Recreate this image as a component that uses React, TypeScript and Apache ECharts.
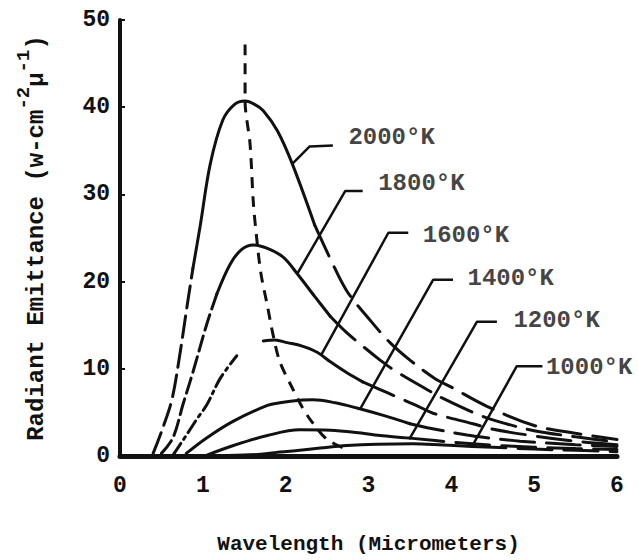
import React, { useEffect, useRef } from 'react';
import * as echarts from 'echarts';

type Pt = [number, number];

// Axis ticks
const xTicks = [0, 1, 2, 3, 4, 5, 6];
const yTicks = [0, 10, 20, 30, 40, 50];

// Black-body emittance curves: [wavelength µm, W cm^-2 µ^-1]
const curve2000: Pt[] = [
  [0.4, 0.3], [0.52, 3.3], [0.63, 6.6], [0.72, 11.5], [0.81, 17.2], [0.88, 21.5],
  [0.97, 26.5], [1.09, 33.5], [1.24, 38.5], [1.38, 40.3], [1.51, 40.7], [1.63, 40.3],
  [1.73, 39.6], [1.9, 37.3], [2.08, 33.5], [2.35, 26.5], [2.55, 22.4], [2.74, 18.9],
  [3.0, 15.8], [3.26, 13.0], [3.5, 11.0], [3.8, 8.9], [4.0, 7.9], [4.43, 5.7],
  [5.0, 3.5], [5.5, 2.6], [6.0, 1.9],
];
const curve1800: Pt[] = [
  [0.5, 0.3], [0.64, 2.1], [0.76, 5.9], [0.88, 9.6], [1.05, 15.2], [1.17, 18.6],
  [1.33, 22.0], [1.47, 23.7], [1.61, 24.2], [1.78, 23.8], [1.97, 22.8], [2.14, 20.9],
  [2.35, 18.3], [2.54, 16.0], [2.72, 14.3], [2.93, 12.6], [3.14, 11.0], [3.3, 9.9],
  [3.71, 7.6], [3.9, 6.6], [4.31, 4.8], [4.55, 4.0], [5.0, 2.9], [5.5, 2.2], [6.0, 1.6],
];
const curve1600: Pt[] = [
  [0.64, 0.1], [0.76, 1.8], [0.94, 4.4], [1.05, 5.9], [1.21, 8.9], [1.41, 11.5],
  [1.73, 13.2], [1.87, 13.3], [2.02, 13.0], [2.2, 12.6], [2.38, 11.9], [2.54, 10.8],
  [2.73, 9.6], [2.93, 8.5], [3.12, 7.7], [3.36, 6.7], [3.6, 5.7], [3.78, 4.9],
  [4.26, 3.7], [4.49, 3.1], [5.0, 2.3], [5.5, 1.7], [6.0, 1.3],
];
const curve1400: Pt[] = [
  [0.8, 0.3], [1.05, 2.1], [1.37, 4.0], [1.78, 5.8], [1.93, 6.1], [2.17, 6.4],
  [2.33, 6.45], [2.6, 6.1], [2.86, 5.5], [3.2, 4.6], [3.5, 3.7], [3.71, 3.25],
  [4.19, 2.4], [4.43, 2.1], [4.83, 1.7], [5.5, 1.3], [6.0, 1.1],
];
const curve1200: Pt[] = [
  [1.05, 0.1], [1.37, 1.2], [1.78, 2.35], [2.17, 3.0], [2.54, 2.95], [2.85, 2.7],
  [3.14, 2.35], [3.5, 2.05], [4.0, 1.6], [4.5, 1.25], [5.0, 1.0], [5.5, 0.85], [6.0, 0.75],
];
const curve1000: Pt[] = [
  [1.3, 0.05], [1.7, 0.2], [1.93, 0.45], [2.17, 0.65], [2.45, 0.95], [2.74, 1.2],
  [3.1, 1.35], [3.54, 1.4], [3.9, 1.25], [4.25, 1.1], [5.0, 0.8], [5.5, 0.65], [6.0, 0.5],
];

// Locus of the emittance maxima
const peakLocus: Pt[] = [
  [1.51, 47.2], [1.51, 40.7], [1.57, 35.8], [1.61, 29.0], [1.65, 25.0], [1.7, 21.0],
  [1.78, 17.2], [1.85, 13.8], [1.93, 10.8], [2.08, 7.8], [2.2, 5.6], [2.31, 4.0],
  [2.5, 1.9], [2.75, 0.7],
];

// Leader lines from each curve to its temperature label
const labelNames = ['2000°K', '1800°K', '1600°K', '1400°K', '1200°K', '1000°K'];
const leaderLines: Pt[][] = [
  [[2.08, 33.5], [2.29, 35.5], [2.57, 35.6]],
  [[2.14, 20.9], [2.72, 30.4], [2.93, 30.4]],
  [[2.43, 11.6], [3.24, 25.6], [3.48, 25.6]],
  [[2.9, 5.4], [3.78, 20.2], [4.02, 20.2]],
  [[3.5, 2.05], [4.31, 15.4], [4.55, 15.4]],
  [[4.25, 1.1], [4.79, 10.3], [5.1, 10.3]],
];
const labelOffsets: Pt[] = [[15, -8], [15, -7], [14, 3], [14, -1], [16, -1], [3, 1]];

const INK = '#111';
const FONT = '"Liberation Mono", "DejaVu Sans Mono", monospace';

type Seg = { from: number; to: number; dash: 'solid' | number[] };
const curveStyles: { data: Pt[]; segs: Seg[] }[] = [
  { data: curve2000, segs: [
    { from: 0, to: 0.88, dash: [22, 8] },
    { from: 0.88, to: 2.35, dash: 'solid' },
    { from: 2.35, to: 6, dash: [34, 12] },
  ] },
  { data: curve1800, segs: [
    { from: 0, to: 1.17, dash: [16, 6] },
    { from: 1.17, to: 2.54, dash: 'solid' },
    { from: 2.54, to: 6, dash: [34, 12] },
  ] },
  { data: curve1600, segs: [
    { from: 0, to: 1.41, dash: [14, 5, 3, 5] },
    { from: 1.73, to: 2.93, dash: 'solid' },
    { from: 2.93, to: 6, dash: [34, 12] },
  ] },
  { data: curve1400, segs: [
    { from: 0, to: 3.5, dash: 'solid' },
    { from: 3.5, to: 6, dash: [34, 12] },
  ] },
  { data: curve1200, segs: [
    { from: 0, to: 3.5, dash: 'solid' },
    { from: 3.5, to: 6, dash: [34, 12] },
  ] },
  { data: curve1000, segs: [
    { from: 0, to: 4.25, dash: 'solid' },
    { from: 4.25, to: 6, dash: [34, 12] },
  ] },
];

function buildOption() {
  const series: any[] = [];
  curveStyles.forEach((c) => {
    c.segs.forEach((s) => {
      series.push({
        type: 'line',
        data: c.data.filter((p) => p[0] >= s.from - 1e-9 && p[0] <= s.to + 1e-9),
        smooth: 0.35,
        symbol: 'none',
        silent: true,
        lineStyle: { color: INK, width: 3, type: s.dash, cap: 'round' },
        z: 3,
      });
    });
  });
  series.push({
    type: 'line',
    data: peakLocus,
    smooth: 0.3,
    symbol: 'none',
    lineStyle: { color: INK, width: 3, type: [11, 8] },
    z: 4,
  });
  leaderLines.forEach((pts) => {
    series.push({
      type: 'line',
      data: pts,
      symbol: 'none',
      lineStyle: { color: INK, width: 2.5 },
      z: 4,
    });
  });
  series.push({
    type: 'scatter',
    symbolSize: 1,
    itemStyle: { color: 'rgba(0,0,0,0)' },
    data: leaderLines.map((pts, i) => ({
      value: pts[pts.length - 1],
      name: labelNames[i],
      label: { offset: labelOffsets[i] },
    })),
    label: {
      show: true,
      position: 'right',
      distance: 0,
      formatter: (p: any) => p.name,
      color: INK,
      fontFamily: FONT,
      fontSize: 24,
      fontWeight: 'bold',
    },
    z: 5,
  });

  return {
    animation: false,
    backgroundColor: '#fff',
    textStyle: { fontFamily: FONT },
    grid: { left: 120, right: 21, top: 20, bottom: 94 },
    xAxis: {
      type: 'value',
      min: xTicks[0],
      max: xTicks[xTicks.length - 1],
      interval: 1,
      name: 'Wavelength (Micrometers)',
      nameLocation: 'middle',
      nameGap: 78,
      nameTextStyle: { fontSize: 21, fontWeight: 'bold', color: INK, fontFamily: FONT },
      axisLine: { show: true, onZero: false, lineStyle: { color: INK, width: 5 } },
      axisTick: { show: false },
      splitLine: { show: false },
      axisLabel: { fontSize: 23, fontWeight: 'bold', color: INK, margin: 18, fontFamily: FONT },
    },
    yAxis: {
      type: 'value',
      min: yTicks[0],
      max: yTicks[yTicks.length - 1],
      interval: 10,
      name: '{b|Radiant Emittance (w-cm}{s|-2}{b|µ}{s|-1}{b|)}',
      nameLocation: 'middle',
      nameGap: 72,
      nameRotate: 90,
      nameTextStyle: {
        color: INK,
        fontFamily: FONT,
        rich: {
          b: { fontSize: 24, fontWeight: 'bold', lineHeight: 34, verticalAlign: 'bottom', color: INK, fontFamily: FONT },
          s: { fontSize: 19, fontWeight: 'bold', lineHeight: 34, verticalAlign: 'top', color: INK, fontFamily: FONT },
        },
      },
      axisLine: { show: true, lineStyle: { color: INK, width: 4 } },
      axisTick: { show: true, inside: true, length: 5, lineStyle: { color: INK, width: 2 } },
      splitLine: { show: false },
      axisLabel: { fontSize: 23, fontWeight: 'bold', color: INK, margin: 10, fontFamily: FONT },
    },
    series,
  };
}

export default function App() {
  const ref = useRef<HTMLDivElement>(null);
  useEffect(() => {
    if (!ref.current) return;
    const chart = echarts.init(ref.current, undefined, { renderer: 'svg' });
    chart.setOption(buildOption() as any);
    return () => chart.dispose();
  }, []);
  return (
    <div
      ref={ref}
      style={{ position: 'fixed', left: 0, top: 0, width: 638, height: 560, background: '#fff' }}
    />
  );
}
